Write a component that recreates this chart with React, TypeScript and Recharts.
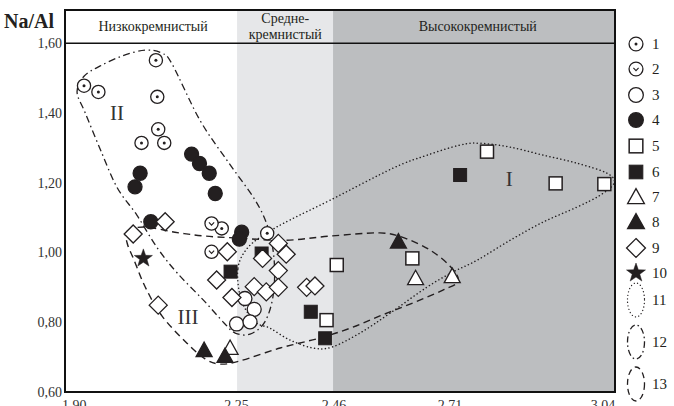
import React from 'react';
import { ComposedChart, XAxis, YAxis, Scatter, Line, ReferenceArea, ReferenceLine } from 'recharts';

const INK = '#231f20';
const FONT = "'Liberation Serif', 'Times New Roman', serif";
const FS = { fontFamily: FONT };

// axes
const xDomain = [1.88, 3.066];
const yDomain = [0.6, 1.695];
const xTicks = [1.9, 2.25, 2.46, 2.71, 3.04];
const yTicks = [0.6, 0.8, 1.0, 1.2, 1.4, 1.6];
const headerY = 1.6;

// silica classes (x boundaries)
const bandLow = [1.88, 2.251];
const bandMid = [2.251, 2.458];
const bandHigh = [2.458, 3.066];
const headerLabels = [
  { x: 2.07, y: 1.648, t: 'Низкокремнистый' },
  { x: 2.355, y: 1.648, t: 'Средне-|кремнистый' },
  { x: 2.77, y: 1.648, t: 'Высококремнистый' },
];
const fieldLabels = [
  { x: 2.838, y: 1.21, t: 'I' },
  { x: 1.992, y: 1.399, t: 'II' },
  { x: 2.145, y: 0.815, t: 'III' },
];

// series 1..10
const s1 = [
  { x: 2.076, y: 1.551 }, { x: 1.921, y: 1.478 }, { x: 1.952, y: 1.46 }, { x: 2.079, y: 1.446 },
  { x: 2.081, y: 1.353 }, { x: 2.045, y: 1.314 }, { x: 2.094, y: 1.314 }, { x: 2.218, y: 1.069 },
  { x: 2.316, y: 1.055 },
];
const s2 = [{ x: 2.196, y: 1.083 }, { x: 2.196, y: 1.002 }];
const s3 = [{ x: 2.268, y: 0.868 }, { x: 2.288, y: 0.837 }, { x: 2.25, y: 0.795 }, { x: 2.279, y: 0.801 }];
const s4 = [
  { x: 2.042, y: 1.227 }, { x: 2.031, y: 1.188 }, { x: 2.153, y: 1.282 }, { x: 2.17, y: 1.255 },
  { x: 2.191, y: 1.227 }, { x: 2.204, y: 1.169 }, { x: 2.065, y: 1.088 }, { x: 2.261, y: 1.058 },
  { x: 2.256, y: 1.038 },
];
const s5 = [
  { x: 2.79, y: 1.289 }, { x: 2.938, y: 1.198 }, { x: 3.043, y: 1.196 }, { x: 2.629, y: 0.983 },
  { x: 2.466, y: 0.964 }, { x: 2.444, y: 0.806 },
];
const s6 = [
  { x: 2.732, y: 1.222 }, { x: 2.237, y: 0.945 }, { x: 2.304, y: 0.997 }, { x: 2.41, y: 0.83 },
  { x: 2.441, y: 0.754 },
];
const s7 = [{ x: 2.236, y: 0.726 }, { x: 2.636, y: 0.926 }, { x: 2.715, y: 0.932 }];
const s8 = [{ x: 2.18, y: 0.72 }, { x: 2.225, y: 0.703 }, { x: 2.599, y: 1.031 }];
const s9 = [
  { x: 2.096, y: 1.088 }, { x: 2.027, y: 1.053 }, { x: 2.081, y: 0.849 }, { x: 2.23, y: 1.002 },
  { x: 2.34, y: 1.026 }, { x: 2.306, y: 0.983 }, { x: 2.357, y: 0.995 }, { x: 2.34, y: 0.948 },
  { x: 2.207, y: 0.921 }, { x: 2.288, y: 0.902 }, { x: 2.314, y: 0.887 }, { x: 2.34, y: 0.9 },
  { x: 2.24, y: 0.871 }, { x: 2.401, y: 0.9 }, { x: 2.419, y: 0.904 },
];
const s10 = [{ x: 2.049, y: 0.983 }];

// field outlines (11 dotted = I, 12 dash-dot = II, 13 dashed = III)
const fieldI = [
  { x: 2.253, y: 0.955 }, { x: 2.275, y: 1.015 }, { x: 2.318, y: 1.058 }, { x: 2.365, y: 1.093 },
  { x: 2.452, y: 1.15 }, { x: 2.588, y: 1.242 }, { x: 2.661, y: 1.279 }, { x: 2.732, y: 1.308 },
  { x: 2.775, y: 1.313 }, { x: 2.84, y: 1.302 }, { x: 2.911, y: 1.279 }, { x: 2.984, y: 1.256 },
  { x: 3.049, y: 1.227 }, { x: 3.064, y: 1.199 }, { x: 3.034, y: 1.164 }, { x: 2.984, y: 1.13 },
  { x: 2.911, y: 1.087 }, { x: 2.84, y: 1.035 }, { x: 2.769, y: 0.978 }, { x: 2.717, y: 0.944 },
  { x: 2.661, y: 0.901 }, { x: 2.581, y: 0.826 }, { x: 2.516, y: 0.769 }, { x: 2.456, y: 0.729 },
  { x: 2.415, y: 0.726 }, { x: 2.365, y: 0.749 }, { x: 2.322, y: 0.783 }, { x: 2.29, y: 0.801 },
  { x: 2.26, y: 0.864 },
];
const fieldII = [
  { x: 1.906, y: 1.46 }, { x: 1.921, y: 1.505 }, { x: 1.955, y: 1.534 }, { x: 2.003, y: 1.563 },
  { x: 2.053, y: 1.58 }, { x: 2.089, y: 1.571 }, { x: 2.111, y: 1.54 }, { x: 2.171, y: 1.379 },
  { x: 2.232, y: 1.259 }, { x: 2.29, y: 1.15 }, { x: 2.318, y: 1.07 }, { x: 2.331, y: 0.978 },
  { x: 2.329, y: 0.878 }, { x: 2.311, y: 0.801 }, { x: 2.279, y: 0.766 }, { x: 2.247, y: 0.769 },
  { x: 2.223, y: 0.798 }, { x: 2.178, y: 0.864 }, { x: 2.122, y: 0.941 }, { x: 2.078, y: 1.015 },
  { x: 2.035, y: 1.107 }, { x: 1.992, y: 1.187 }, { x: 1.955, y: 1.299 }, { x: 1.923, y: 1.402 },
];
const fieldIII = [
  { x: 2.014, y: 1.061 }, { x: 2.053, y: 1.073 }, { x: 2.117, y: 1.058 }, { x: 2.182, y: 1.047 },
  { x: 2.257, y: 1.041 }, { x: 2.355, y: 1.035 }, { x: 2.452, y: 1.047 }, { x: 2.559, y: 1.056 },
  { x: 2.613, y: 1.041 }, { x: 2.667, y: 1.007 }, { x: 2.71, y: 0.961 }, { x: 2.728, y: 0.918 },
  { x: 2.695, y: 0.892 }, { x: 2.624, y: 0.852 }, { x: 2.559, y: 0.818 }, { x: 2.495, y: 0.783 },
  { x: 2.43, y: 0.755 }, { x: 2.344, y: 0.726 }, { x: 2.257, y: 0.689 }, { x: 2.214, y: 0.68 },
  { x: 2.182, y: 0.695 }, { x: 2.143, y: 0.74 }, { x: 2.089, y: 0.818 }, { x: 2.053, y: 0.901 },
  { x: 2.029, y: 0.978 }, { x: 2.014, y: 1.027 },
];

const legendLabels = ['1', '2', '3', '4', '5', '6', '7', '8', '9', '10', '11', '12', '13'];

const fmt = (v: number) => v.toFixed(2).replace('.', ',');

// closed smooth curve through the points (Catmull-Rom)
const closedSmooth: any = (context: any) => {
  let pts: number[][] = [];
  return {
    areaStart() {},
    areaEnd() {},
    lineStart() { pts = []; },
    point(x: number, y: number) { pts.push([+x, +y]); },
    lineEnd() {
      const n = pts.length;
      if (!n) return;
      context.moveTo(pts[0][0], pts[0][1]);
      for (let i = 0; i < n; i++) {
        const p0 = pts[(i - 1 + n) % n];
        const p1 = pts[i];
        const p2 = pts[(i + 1) % n];
        const p3 = pts[(i + 2) % n];
        context.bezierCurveTo(
          p1[0] + (p2[0] - p0[0]) / 6, p1[1] + (p2[1] - p0[1]) / 6,
          p2[0] - (p3[0] - p1[0]) / 6, p2[1] - (p3[1] - p1[1]) / 6,
          p2[0], p2[1]
        );
      }
      context.closePath();
    },
  };
};

function Marker({ kind, cx, cy, scale = 1 }: { kind: number; cx: number; cy: number; scale?: number }) {
  const r = 6.6 * scale;
  const sw = 1.3;
  switch (kind) {
    case 1:
      return (
        <g>
          <circle cx={cx} cy={cy} r={r} fill="#fff" stroke={INK} strokeWidth={sw} />
          <circle cx={cx} cy={cy} r={1.5} fill={INK} />
        </g>
      );
    case 2:
      return (
        <g>
          <circle cx={cx} cy={cy} r={r} fill="#fff" stroke={INK} strokeWidth={sw} />
          <path d={`M${cx - 2.6},${cy - 1.2} L${cx},${cy + 1.6} L${cx + 2.6},${cy - 1.2}`} fill="none" stroke={INK} strokeWidth={1.1} />
        </g>
      );
    case 3:
      return <circle cx={cx} cy={cy} r={r + 0.4} fill="#fff" stroke={INK} strokeWidth={sw} />;
    case 4:
      return <circle cx={cx} cy={cy} r={r + 0.4} fill={INK} stroke={INK} strokeWidth={sw} />;
    case 5:
      return <rect x={cx - 6.5 * scale} y={cy - 6.5 * scale} width={13 * scale} height={13 * scale} fill="#fff" stroke={INK} strokeWidth={1.5} />;
    case 6:
      return <rect x={cx - 6.5 * scale} y={cy - 6.5 * scale} width={13 * scale} height={13 * scale} fill={INK} stroke={INK} strokeWidth={1} />;
    case 7:
    case 8: {
      const h = 8 * scale;
      return (
        <polygon
          points={`${cx},${cy - h} ${cx - h},${cy + h * 0.8} ${cx + h},${cy + h * 0.8}`}
          fill={kind === 7 ? '#fff' : INK}
          stroke={INK}
          strokeWidth={sw}
        />
      );
    }
    case 9: {
      const d = 9 * scale;
      return (
        <polygon points={`${cx},${cy - d} ${cx + d},${cy} ${cx},${cy + d} ${cx - d},${cy}`} fill="#fff" stroke={INK} strokeWidth={sw} />
      );
    }
    case 10: {
      const R = 9.5 * scale;
      const ri = 3.8 * scale;
      const pts: string[] = [];
      for (let i = 0; i < 10; i++) {
        const a = -Math.PI / 2 + (i * Math.PI) / 5;
        const rr = i % 2 === 0 ? R : ri;
        pts.push(`${cx + rr * Math.cos(a)},${cy + rr * Math.sin(a)}`);
      }
      return <polygon points={pts.join(' ')} fill={INK} stroke={INK} strokeWidth={0.5} />;
    }
    default:
      return null;
  }
}

const shapeOf = (kind: number) => (p: any) => <Marker kind={kind} cx={p.cx} cy={p.cy} />;

const headerShape = (p: any) => {
  const t: string = p.payload.t;
  const parts = t.split('|');
  if (parts.length === 1) {
    return (
      <text x={p.cx} y={p.cy + 5} textAnchor="middle" fontSize={14} fill={INK} style={FS}>
        {parts[0]}
      </text>
    );
  }
  return (
    <text x={p.cx} textAnchor="middle" fontSize={14} fill={INK} style={FS}>
      <tspan x={p.cx} y={p.cy - 3}>{parts[0]}</tspan>
      <tspan x={p.cx} y={p.cy + 13}>{parts[1]}</tspan>
    </text>
  );
};

const romanShape = (p: any) => (
  <text x={p.cx} y={p.cy + 7} textAnchor="middle" fontSize={21} fill="#333" style={FS}>
    {p.payload.t}
  </text>
);

const series = [s1, s2, s3, s4, s5, s6, s7, s8, s9, s10];
const legendRowsY = [44, 69, 95, 120, 146, 172, 197, 222, 248, 273, 300, 342, 384];

function LegendOverlay() {
  return (
    <svg width={674} height={406} style={{ position: 'absolute', left: 0, top: 0, pointerEvents: 'none' }}>
      <text x={4} y={28} fontSize={20} fontWeight="bold" fill={INK} style={FS}>Na/Al</text>
      {legendLabels.map((lab, i) => {
        const y = legendRowsY[i];
        let sym: React.ReactNode;
        if (i < 10) {
          sym = <Marker kind={i + 1} cx={636} cy={y} scale={1.05} />;
        } else {
          const dash = i === 10 ? '0.1 3.4' : i === 11 ? '6 3 1.5 3' : '6 4';
          sym = (
            <ellipse cx={636} cy={y} rx={8.5} ry={17} fill="none" stroke={INK} strokeWidth={1.3}
              strokeDasharray={dash} strokeLinecap={i === 10 ? 'round' : 'butt'} />
          );
        }
        return (
          <g key={lab}>
            {sym}
            <text x={652} y={y + 5} fontSize={15} fill={INK} style={FS}>{lab}</text>
          </g>
        );
      })}
    </svg>
  );
}

export default function App() {
  return (
    <div style={{ position: 'absolute', left: 0, top: 0, width: 674, height: 406, overflow: 'hidden', background: '#fff' }}>
      <ComposedChart
        width={674}
        height={420}
        margin={{ top: 10, right: 59, bottom: 8, left: 25 }}
        style={FS}
      >
        <XAxis
          type="number"
          dataKey="x"
          domain={xDomain}
          ticks={xTicks}
          allowDataOverflow
          height={20}
          axisLine={false}
          tickLine={false}
          tickSize={6}
          tickMargin={2}
          tickFormatter={fmt}
          tick={{ fill: '#333', fontSize: 14, style: FS }}
          interval={0}
        />
        <YAxis
          type="number"
          dataKey="y"
          domain={yDomain}
          ticks={yTicks}
          allowDataOverflow
          width={40}
          axisLine={false}
          tickLine={false}
          tickSize={3}
          tickMargin={0}
          tickFormatter={fmt}
          tick={{ fill: '#333', fontSize: 14, style: FS }}
          interval={0}
        />
        <ReferenceArea x1={bandMid[0]} x2={bandMid[1]} y1={yDomain[0]} y2={yDomain[1]} fill="#e6e7e9" fillOpacity={1} stroke="none" />
        <ReferenceArea x1={bandHigh[0]} x2={bandHigh[1]} y1={yDomain[0]} y2={yDomain[1]} fill="#bcbec0" fillOpacity={1} stroke="none" />
        <ReferenceLine y={headerY} stroke="#111" strokeWidth={1.5} />
        <ReferenceArea x1={bandLow[0]} x2={bandHigh[1]} y1={yDomain[0]} y2={yDomain[1]} fill="none" stroke="#111" strokeWidth={2} />

        <Line data={fieldI} dataKey="y" type={closedSmooth} stroke={INK} strokeWidth={1.5} strokeDasharray="0.1 3.6" strokeLinecap="round" dot={false} activeDot={false} isAnimationActive={false} />
        <Line data={fieldII} dataKey="y" type={closedSmooth} stroke={INK} strokeWidth={1.3} strokeDasharray="7 3.5 1.5 3.5" dot={false} activeDot={false} isAnimationActive={false} />
        <Line data={fieldIII} dataKey="y" type={closedSmooth} stroke={INK} strokeWidth={1.4} strokeDasharray="7 4.5" dot={false} activeDot={false} isAnimationActive={false} />

        {series.map((d, i) => (
          <Scatter key={i} data={d} shape={shapeOf(i + 1)} isAnimationActive={false} />
        ))}
        <Scatter data={headerLabels} shape={headerShape} isAnimationActive={false} />
        <Scatter data={fieldLabels} shape={romanShape} isAnimationActive={false} />
      </ComposedChart>
      <LegendOverlay />
    </div>
  );
}
